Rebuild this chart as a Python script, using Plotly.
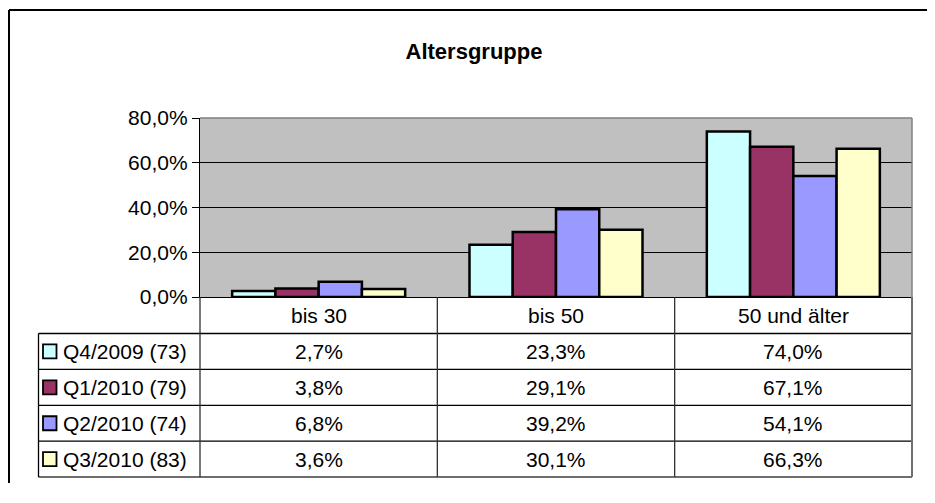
import plotly.graph_objects as go

categories = ["bis 30", "bis 50", "50 und älter"]
series_names = ["Q4/2009 (73)", "Q1/2010 (79)", "Q2/2010 (74)", "Q3/2010 (83)"]
q4_2009 = [2.7, 23.3, 74.0]
q1_2010 = [3.8, 29.1, 67.1]
q2_2010 = [6.8, 39.2, 54.1]
q3_2010 = [3.6, 30.1, 66.3]
series_values = [q4_2009, q1_2010, q2_2010, q3_2010]
series_colors = ["#CCFFFF", "#993366", "#9999FF", "#FFFFCC"]
y_ticks = [0, 20, 40, 60, 80]
y_tick_labels = ["0,0%", "20,0%", "40,0%", "60,0%", "80,0%"]
title_text = "Altersgruppe"

OFF = 8  # page body margin
W, H = 935 - 2 * OFF, 475
L, T = 200 - OFF, 118 - OFF
PW = 712
PH = 179
R = W - L - PW
B = H - T - PH
FONT = "Liberation Sans, Arial, sans-serif"
FS = 21


def px_x(px):
    return (px - OFF - L) / PW


def px_y(py):
    return (T + PH - (py - OFF)) / PH


fig = go.Figure()
for name, vals, col in zip(series_names, series_values, series_colors):
    fig.add_trace(go.Bar(
        x=categories, y=vals, name=name,
        marker=dict(color=col, line=dict(color="black", width=2.5)),
        showlegend=False,
    ))

shapes = []
annotations = []

# plot area top/right border (gray)
shapes.append(dict(type="line", xref="paper", yref="paper", x0=0, x1=1, y0=1, y1=1,
                   line=dict(color="#808080", width=1.5)))
shapes.append(dict(type="line", xref="paper", yref="paper", x0=1, x1=1, y0=0, y1=1,
                   line=dict(color="#808080", width=1.5)))

# data table geometry (page pixels)
header_h = 36.5
row_h = 35.9
table_left_px = 38.5
y_axis_px = 118 + PH
header_bottom_px = y_axis_px + header_h
row_edges_px = [header_bottom_px + row_h * k for k in range(len(series_names) + 1)]
table_bottom_px = row_edges_px[-1]
ncat = len(categories)

# horizontal lines
for k, ypx in enumerate(row_edges_px):
    last = k == len(row_edges_px) - 1
    shapes.append(dict(type="line", xref="paper", yref="paper",
                       x0=px_x(table_left_px), x1=1, y0=px_y(ypx), y1=px_y(ypx),
                       line=dict(color="#6e6e6e" if last else "black", width=2 if last else 1.3)))
# vertical lines
shapes.append(dict(type="line", xref="paper", yref="paper",
                   x0=px_x(table_left_px), x1=px_x(table_left_px),
                   y0=px_y(header_bottom_px), y1=px_y(table_bottom_px),
                   line=dict(color="black", width=1.3)))
for i in range(ncat + 1):
    xp = i / ncat
    last = i == ncat
    shapes.append(dict(type="line", xref="paper", yref="paper", x0=xp, x1=xp,
                       y0=0, y1=px_y(table_bottom_px),
                       line=dict(color="#6e6e6e" if last else "#303030", width=2 if last else 1.3)))

# header texts
for c in categories:
    annotations.append(dict(xref="x", yref="paper", x=c, y=px_y(y_axis_px + header_h / 2),
                            text=c, showarrow=False, xanchor="center", yanchor="middle",
                            font=dict(family=FONT, size=FS, color="black")))

# rows
for r, (name, vals, col) in enumerate(zip(series_names, series_values, series_colors)):
    yc_px = row_edges_px[r] + row_h / 2
    yc = px_y(yc_px)
    shapes.append(dict(type="rect", xref="paper", yref="paper",
                       x0=px_x(43), x1=px_x(56.5), y0=px_y(yc_px + 7), y1=px_y(yc_px - 7),
                       fillcolor=col, line=dict(color="black", width=1.8)))
    annotations.append(dict(xref="paper", yref="paper", x=px_x(61), y=yc,
                            text=name, showarrow=False, xanchor="left", yanchor="middle",
                            font=dict(family=FONT, size=FS, color="black")))
    for c, v in zip(categories, vals):
        annotations.append(dict(xref="x", yref="paper", x=c, y=yc,
                                text=f"{v:.1f}%".replace(".", ","), showarrow=False,
                                xanchor="center", yanchor="middle",
                                font=dict(family=FONT, size=FS, color="black")))

# outer chart border (only top and left edges are visible in the frame)
shapes.append(dict(type="line", xref="paper", yref="paper",
                   x0=px_x(9), x1=px_x(940), y0=px_y(10), y1=px_y(10),
                   line=dict(color="black", width=2)))
shapes.append(dict(type="line", xref="paper", yref="paper",
                   x0=px_x(9), x1=px_x(9), y0=px_y(10), y1=px_y(510),
                   line=dict(color="black", width=2)))

fig.update_layout(
    width=W, height=H,
    margin=dict(l=L, r=R, t=T, b=B, pad=0),
    paper_bgcolor="white",
    plot_bgcolor="#C0C0C0",
    barmode="group",
    bargap=0.271,
    bargroupgap=0,
    font=dict(family=FONT, size=FS, color="black"),
    title=dict(text=f"<b>{title_text}</b>", x=(474 - OFF) / W, xanchor="center",
               y=1 - (51 - OFF) / H, yanchor="middle", yref="container",
               font=dict(family=FONT, size=22, color="black")),
    xaxis=dict(showticklabels=False, ticks="", showgrid=False, zeroline=False,
               showline=True, linecolor="black", linewidth=1.3,
               range=[-0.5, ncat - 0.5]),
    yaxis=dict(range=[0, 80], tickmode="array", tickvals=y_ticks, ticktext=y_tick_labels,
               showgrid=True, gridcolor="black", gridwidth=1,
               zeroline=False, showline=True, linecolor="black", linewidth=1.3,
               ticks="outside", ticklen=7, tickcolor="black", tickwidth=1.3,
               tickfont=dict(family=FONT, size=FS, color="black")),
    shapes=shapes,
    annotations=annotations,
)

fig.write_html("out.html")
